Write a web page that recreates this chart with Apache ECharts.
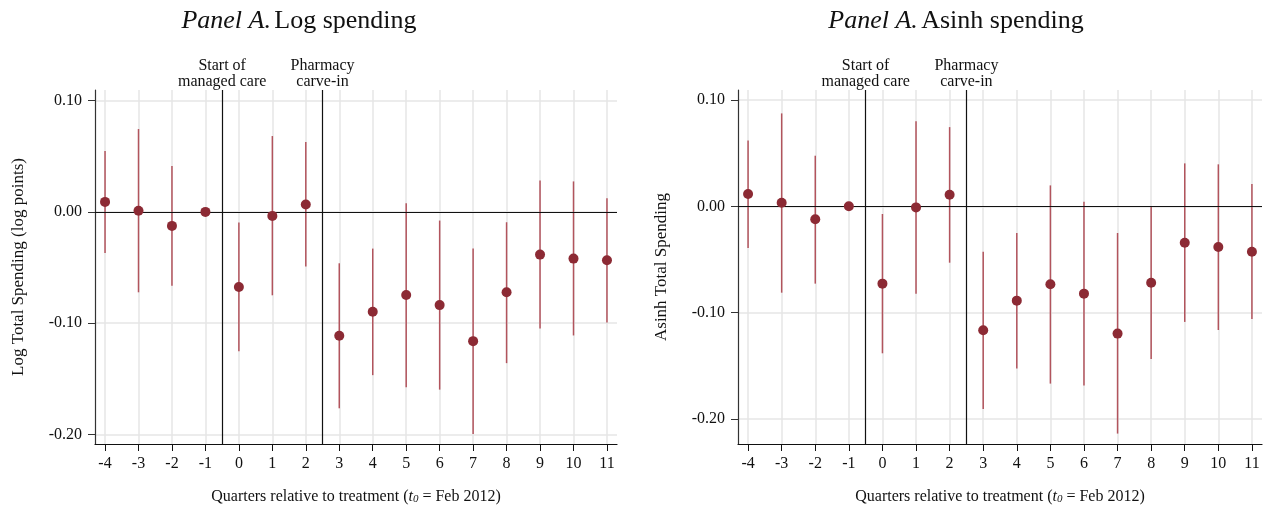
<!DOCTYPE html>
<html>
<head>
<meta charset="utf-8">
<script src="https://cdn.jsdelivr.net/npm/echarts@6/dist/echarts.min.js"></script>
<style>
html,body{margin:0;padding:0;background:#fff;}
#chart{width:1264px;height:510px;}
</style>
</head>
<body>
<div id="chart"></div>
<script>
// ---- Data ----
const quarters = [-4,-3,-2,-1,0,1,2,3,4,5,6,7,8,9,10,11];
const xTicks = [-4,-3,-2,-1,0,1,2,3,4,5,6,7,8,9,10,11];
const yTicks = [-0.2,-0.1,0,0.1];
const events = [-0.5, 2.5];
const eventLabels = ['Start of\nmanaged care', 'Pharmacy\ncarve-in'];

const logEst = [0.009, 0.001, -0.0126, 0, -0.0676, -0.0036, 0.0066, -0.1114, -0.0898, -0.0748, -0.0838, -0.1162, -0.0723, -0.0384, -0.042, -0.0435];
const logHi  = [0.0547, 0.0745, 0.0412, null, -0.0096, 0.0682, 0.0628, -0.0462, -0.033, 0.0078, -0.0078, -0.033, -0.0093, 0.0283, 0.0274, 0.0123];
const logLo  = [-0.037, -0.0723, -0.0663, null, -0.1252, -0.075, -0.049, -0.1766, -0.1468, -0.1577, -0.1598, -0.1997, -0.136, -0.1048, -0.1111, -0.0994];

const asinhEst = [0.0116, 0.0034, -0.0122, 0, -0.0727, -0.001, 0.0109, -0.1166, -0.0887, -0.0733, -0.0821, -0.1197, -0.0718, -0.0342, -0.0382, -0.0427];
const asinhHi  = [0.062, 0.0874, 0.0476, null, -0.0072, 0.0799, 0.0745, -0.0427, -0.0251, 0.0197, 0.0043, -0.0251, -0.0004, 0.0404, 0.0395, 0.021];
const asinhLo  = [-0.0392, -0.0812, -0.0727, null, -0.1382, -0.0821, -0.053, -0.1905, -0.1526, -0.1667, -0.1686, -0.2137, -0.1435, -0.1087, -0.1163, -0.1059];

const panelTitles = ['Log spending', 'Asinh spending'];
const yNames = ['Log Total Spending (log points)', 'Asinh Total Spending'];

// ---- Styles ----
const FONT = '"Liberation Serif", "Times New Roman", serif';
const DOT = '#8c2a34';
const CI = '#b2545d';

const chart = echarts.init(document.getElementById('chart'));

function xAxisFor(gi) {
  return {
    type: 'value', gridIndex: gi, min: -4.3, max: 11.3,
    name: '{n|Quarters relative to treatment (}{i|t}{s|0}{n| = Feb 2012)}',
    nameLocation: 'middle', nameGap: 44,
    nameTextStyle: {
      rich: {
        n: {fontFamily: FONT, fontSize: 16, color: '#111'},
        i: {fontFamily: FONT, fontSize: 16, fontStyle: 'italic', color: '#111'},
        s: {fontFamily: FONT, fontSize: 11, fontStyle: 'italic', color: '#111', padding: [6,0,0,0]}
      }
    },
    axisLine: {show: true, onZero: false, lineStyle: {color: '#111', width: 1.2}},
    axisTick: {show: true, customValues: xTicks, length: 7, lineStyle: {color: '#111'}},
    axisLabel: {customValues: xTicks, margin: 12, fontFamily: FONT, fontSize: 16, color: '#111'},
    splitLine: {show: true, lineStyle: {color: '#e6e6e6', width: 1.5}}
  };
}
function yAxisFor(gi, mn, mx) {
  return {
    type: 'value', gridIndex: gi, min: mn, max: mx,
    name: yNames[gi], nameLocation: 'middle', nameGap: 68,
    nameTextStyle: {fontFamily: FONT, fontSize: 17, color: '#111'},
    axisLine: {show: true, onZero: false, lineStyle: {color: '#333', width: 1.2}},
    axisTick: {show: true, customValues: yTicks, length: 7, lineStyle: {color: '#333'}},
    axisLabel: {customValues: yTicks, margin: 13, fontFamily: FONT, fontSize: 16, color: '#111',
      formatter: v => v.toFixed(2)},
    splitLine: {show: true, lineStyle: {color: '#e6e6e6', width: 1.5}}
  };
}

function ciSeries(gi, lo, hi) {
  const data = [];
  quarters.forEach((q, i) => { if (lo[i] != null && hi[i] != null) data.push([q, lo[i], hi[i]]); });
  return {
    type: 'custom', xAxisIndex: gi, yAxisIndex: gi, silent: true, z: 3,
    data: data,
    encode: {x: 0, y: [1, 2]},
    renderItem: function (params, api) {
      const p1 = api.coord([api.value(0), api.value(1)]);
      const p2 = api.coord([api.value(0), api.value(2)]);
      return {type: 'line', shape: {x1: p1[0], y1: p1[1], x2: p2[0], y2: p2[1]},
        style: {stroke: CI, lineWidth: 1.5}};
    }
  };
}
function dotSeries(gi, est) {
  return {
    type: 'scatter', xAxisIndex: gi, yAxisIndex: gi, z: 5,
    symbol: 'circle', symbolSize: 10,
    itemStyle: {color: DOT, opacity: 1},
    data: quarters.map((q, i) => [q, est[i]]),
    markLine: {
      silent: true, symbol: 'none', animation: false,
      lineStyle: {color: '#111', width: 1.2, type: 'solid'},
      label: {show: false},
      data: [
        {yAxis: 0, label: {show: false}},
        ...events.map((e, k) => ({
          xAxis: e,
          label: {show: true, position: 'end', formatter: eventLabels[k], distance: 0,
            fontFamily: FONT, fontSize: 16, lineHeight: 16, color: '#111', align: 'center'}
        }))
      ]
    }
  };
}

function titleText(x, label) {
  return {
    type: 'text', x: x, y: 8, silent: true,
    style: {
      text: '{i|Panel A.} {n|' + label + '}',
      align: 'center', verticalAlign: 'top',
      rich: {
        i: {fontFamily: FONT, fontSize: 26, fontStyle: 'italic', fill: '#111'},
        n: {fontFamily: FONT, fontSize: 26, fill: '#111'}
      }
    }
  };
}

chart.setOption({
  animation: false,
  backgroundColor: '#fff',
  graphic: [titleText(299, panelTitles[0]), titleText(956, panelTitles[1])],
  grid: [
    {left: 95, top: 90, width: 522, height: 354},
    {left: 738, top: 90, width: 524, height: 354}
  ],
  xAxis: [xAxisFor(0), xAxisFor(1)],
  yAxis: [yAxisFor(0, -0.2087, 0.1096), yAxisFor(1, -0.2235, 0.1094)],
  series: [
    ciSeries(0, logLo, logHi), dotSeries(0, logEst),
    ciSeries(1, asinhLo, asinhHi), dotSeries(1, asinhEst)
  ]
});
</script>
</body>
</html>
